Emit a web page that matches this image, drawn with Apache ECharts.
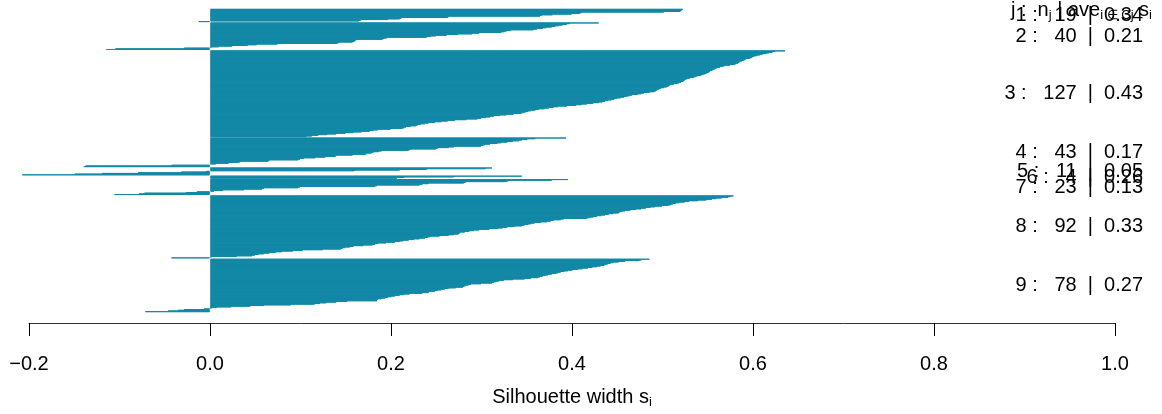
<!DOCTYPE html>
<html><head><meta charset="utf-8">
<script src="https://cdn.jsdelivr.net/npm/echarts@6/dist/echarts.min.js"></script>
<style>html,body{margin:0;padding:0;background:#fff}#c{width:1162px;height:414px}</style>
</head><body><div id="c"></div>
<script>
// ---- data (silhouette widths, sorted within each cluster) ----
const clusterIds = [1, 2, 3, 4, 5, 6, 7, 8, 9];
const clusterMeans = ['0.34', '0.21', '0.43', '0.17', '0.05', '0.26', '0.13', '0.33', '0.27'];
const xTicks = [-0.2, 0.0, 0.2, 0.4, 0.6, 0.8, 1.0];

const c1 = [0.523, 0.522, 0.521, 0.520, 0.502, 0.411, 0.409, 0.400, 0.379, 0.367,
  0.365, 0.264, 0.263, 0.212, 0.210, 0.197, 0.167, 0.165, -0.013];
const c2 = [0.430, 0.398, 0.395, 0.390, 0.386, 0.382, 0.378, 0.372, 0.368, 0.362,
  0.358, 0.333, 0.328, 0.325, 0.322, 0.298, 0.290, 0.274, 0.262, 0.250,
  0.244, 0.240, 0.196, 0.193, 0.191, 0.162, 0.161, 0.160, 0.158, 0.143,
  0.141, 0.075, 0.052, 0.042, 0.025, 0.010, 0.002, -0.029, -0.105, -0.115];
const c3 = [0.636, 0.625, 0.622, 0.618, 0.615, 0.611, 0.608, 0.605, 0.602, 0.600,
  0.599, 0.597, 0.593, 0.592, 0.590, 0.588, 0.586, 0.585, 0.584, 0.582,
  0.580, 0.575, 0.569, 0.567, 0.564, 0.561, 0.559, 0.558, 0.556, 0.555,
  0.553, 0.552, 0.551, 0.549, 0.547, 0.545, 0.543, 0.539, 0.537, 0.535,
  0.531, 0.528, 0.526, 0.525, 0.524, 0.523, 0.521, 0.519, 0.517,
  0.513, 0.509, 0.508, 0.507, 0.505, 0.502, 0.499, 0.497, 0.495, 0.494,
  0.493, 0.491, 0.486, 0.480, 0.477, 0.473, 0.467, 0.464, 0.461, 0.458,
  0.454, 0.450, 0.447, 0.444, 0.440, 0.437, 0.434, 0.430, 0.424, 0.417,
  0.411, 0.405, 0.395, 0.385, 0.380, 0.375, 0.370, 0.364, 0.360, 0.355,
  0.352, 0.349, 0.346, 0.344, 0.336, 0.328, 0.321, 0.314, 0.310, 0.305,
  0.300, 0.296, 0.284, 0.271, 0.263, 0.256, 0.249, 0.242, 0.238, 0.233,
  0.230, 0.228, 0.222, 0.217, 0.215, 0.213, 0.200, 0.186, 0.181, 0.177,
  0.168, 0.159, 0.150, 0.140, 0.130, 0.120, 0.113, 0.107];
const c4 = [0.394, 0.360, 0.351, 0.345, 0.342, 0.335, 0.329, 0.322, 0.318, 0.310,
  0.304, 0.302, 0.300, 0.270, 0.264, 0.252, 0.250, 0.222, 0.220, 0.190,
  0.187, 0.181, 0.179, 0.174, 0.172, 0.158, 0.140, 0.139, 0.128, 0.117,
  0.104, 0.100, 0.098, 0.066, 0.065, 0.034, 0.032, 0.021, 0.007, 0.001,
  -0.043, -0.138, -0.140];
const c5 = [0.312, 0.305, 0.240, 0.210, 0.160, -0.005, -0.032, -0.080, -0.120, -0.150, -0.208];
const c6 = [0.345, 0.270, 0.215, 0.207];
const c7 = [0.396, 0.378, 0.330, 0.328, 0.283, 0.281, 0.242, 0.235, 0.232, 0.185,
  0.183, 0.100, 0.098, 0.060, 0.058, 0.038, 0.015, 0.005, -0.015, -0.027,
  -0.073, -0.079, -0.106];
const c8 = [0.579, 0.576, 0.573, 0.566, 0.560, 0.555, 0.549, 0.540, 0.530, 0.525,
  0.519, 0.515, 0.512, 0.510, 0.507, 0.500, 0.492, 0.487, 0.482, 0.477,
  0.471, 0.465, 0.459, 0.456, 0.453, 0.452, 0.446, 0.441, 0.437, 0.433,
  0.428, 0.424, 0.420, 0.417, 0.391, 0.388, 0.380, 0.377, 0.373, 0.366,
  0.359, 0.355, 0.352, 0.348, 0.345, 0.337, 0.329, 0.324, 0.319, 0.309,
  0.298, 0.292, 0.287, 0.282, 0.277, 0.276, 0.275, 0.270, 0.264, 0.254,
  0.244, 0.241, 0.238, 0.232, 0.226, 0.220, 0.214, 0.210, 0.205, 0.195,
  0.186, 0.183, 0.180, 0.170, 0.159, 0.155, 0.150, 0.147, 0.145, 0.125,
  0.103, 0.092, 0.080, 0.073, 0.066, 0.060, 0.054, 0.050, 0.047, 0.030,
  0.002, -0.043];
const c9 = [0.486, 0.477, 0.475, 0.459, 0.452, 0.446, 0.443, 0.440, 0.438, 0.436,
  0.432, 0.428, 0.423, 0.418, 0.412, 0.407, 0.401, 0.396, 0.392, 0.388,
  0.385, 0.383, 0.378, 0.374, 0.371, 0.368, 0.365, 0.363, 0.355, 0.348,
  0.335, 0.325, 0.320, 0.317, 0.314, 0.312, 0.300, 0.289, 0.286, 0.283,
  0.281, 0.280, 0.272, 0.264, 0.260, 0.256, 0.252, 0.249, 0.242, 0.242,
  0.235, 0.221, 0.215, 0.210, 0.205, 0.201, 0.197, 0.194, 0.190, 0.186,
  0.185, 0.185, 0.152, 0.140, 0.129, 0.122, 0.116, 0.090, 0.060, 0.045,
  0.024, 0.008, 0.002, -0.007, -0.029, -0.036, -0.047, -0.072];

const clusters = [c1, c2, c3, c4, c5, c6, c7, c8, c9];

// ---- build category axis (one empty slot between clusters) ----
const cats = [], vals = [], mids = [];
clusters.forEach((arr, k) => {
  if (k > 0) { cats.push('gap' + k); vals.push(null); }
  const start = vals.length;
  arr.forEach((v, i) => { cats.push(clusterIds[k] + '_' + (i + 1)); vals.push(v); });
  mids.push((start + vals.length - 1) / 2);
});

const COL = '#1288a6';
const FONT = '"Liberation Sans", Arial, Helvetica, sans-serif';
const rich = {
  n: { fontSize: 20, fontFamily: FONT, color: '#000', lineHeight: 24, verticalAlign: 'middle' },
  sub: { fontSize: 13, fontFamily: FONT, color: '#000', lineHeight: 12, verticalAlign: 'bottom' }
};

const chart = echarts.init(document.getElementById('c'), null, { renderer: 'canvas' });
chart.setOption({
  animation: false,
  backgroundColor: '#fff',
  grid: { left: 29, right: 47, top: 9, bottom: 97, containLabel: false },
  xAxis: {
    type: 'value', min: xTicks[0], max: xTicks[xTicks.length - 1], interval: 0.2,
    offset: 11,
    axisLine: { show: true, onZero: false, lineStyle: { color: '#333', width: 1 } },
    axisTick: { show: true, length: 13, lineStyle: { color: '#000', width: 1 } },
    splitLine: { show: false },
    axisLabel: {
      margin: 31, fontSize: 20, color: '#000', fontFamily: FONT,
      formatter: v => (v < -1e-9 ? '\u2212' : '') + Math.abs(v).toFixed(1)
    },
    name: '{n|Silhouette width s}{sub|i}',
    nameLocation: 'middle', nameGap: 62,
    nameTextStyle: { rich: rich }
  },
  yAxis: [
    { type: 'category', data: cats, inverse: true, show: false },
    { type: 'value', min: -0.5, max: cats.length - 0.5, inverse: true, show: false }
  ],
  series: [
    {
      type: 'bar', data: vals, barCategoryGap: '0%', barGap: '0%',
      clip: false, silent: true,
      itemStyle: { color: COL, borderColor: COL, borderWidth: 1 }
    },
    {
      type: 'custom', xAxisIndex: 0, yAxisIndex: 1, silent: true,
      data: clusterIds.map((id, k) => [1, mids[k], k]),
      renderItem: (params, api) => {
        const k = api.value(2);
        const p = api.coord([api.value(0), api.value(1)]);
        const txt = clusterIds[k] + ' :   ' + clusters[k].length + '  |  ' + clusterMeans[k];
        return {
          type: 'text', x: p[0] + 28, y: p[1],
          style: {
            text: txt, fill: '#000', font: '20px ' + FONT,
            align: 'right', textAlign: 'right', verticalAlign: 'middle', textVerticalAlign: 'middle'
          }
        };
      }
    }
  ],
  graphic: [
    {
      type: 'text', right: 10, top: 0, silent: true,
      style: {
        text: '{n|j :  n}{sub|j}{n| | ave}{sub|i \u2208 Cj}{n| s}{sub|i}',
        rich: rich
      }
    }
  ]
});
</script>
</body></html>
